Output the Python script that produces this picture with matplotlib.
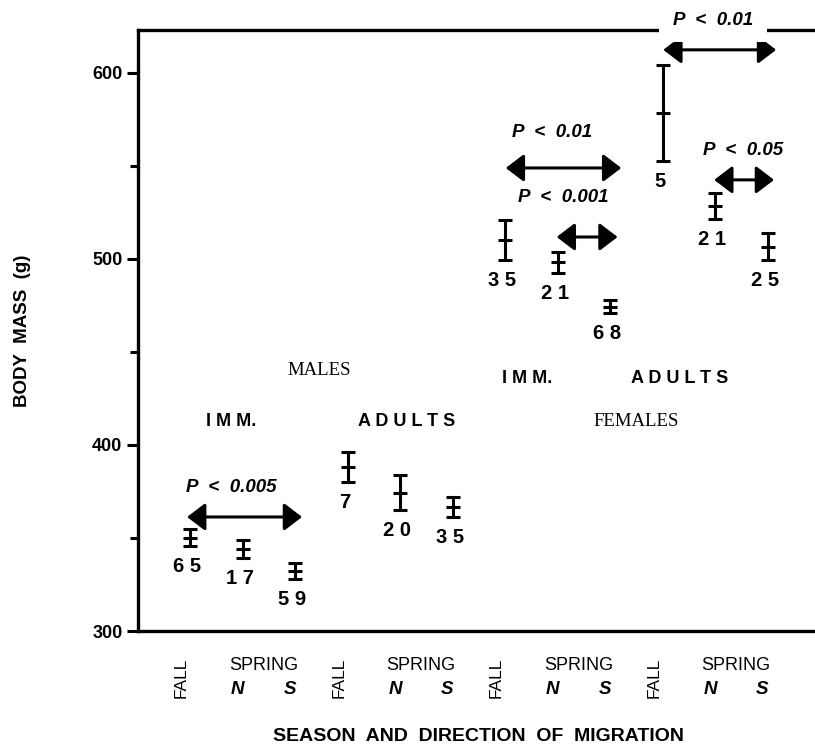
import matplotlib.pyplot as plt
from matplotlib.ticker import MultipleLocator
import matplotlib.transforms as mtransforms

plt.rcParams["font.family"] = ["Liberation Sans", "DejaVu Sans"]

# twelve samples: males imm / males adult / females imm / females adult,
# each as fall, spring north, spring south
season_labels = ["FALL", "N", "S"] * 4
mean_mass = [350.2, 344.1, 332.4, 388.0, 374.4, 366.8,
             510.2, 498.2, 474.4, 578.5, 528.5, 506.6]
se_mass = [4.5, 4.7, 4.2, 8.0, 9.4, 5.5,
           10.9, 5.6, 3.6, 26.0, 7.2, 7.2]
sample_n = [65, 17, 59, 7, 20, 35, 35, 21, 68, 5, 21, 25]

# significant differences between samples (index pairs)
comp_pairs = [(0, 2), (6, 8), (7, 8), (9, 11), (10, 11)]
comp_p = ["0.005", "0.01", "0.001", "0.01", "0.05"]

x = list(range(len(mean_mass)))

fig = plt.figure(figsize=(8.15, 7.53), dpi=100)
ax = fig.add_axes([0.169, 0.162, 0.831, 0.798])

ax.errorbar(x, mean_mass, yerr=se_mass, fmt="_", color="black",
            markersize=10, markeredgewidth=2.2, elinewidth=2.2,
            capsize=5, capthick=2.2)

for xi, m, s, n in zip(x, mean_mass, se_mass, sample_n):
    ax.annotate(" ".join(str(n)), xy=(xi, m - s), xytext=(-2, -8),
                textcoords="offset points", ha="center", va="top",
                fontsize=14.5, fontweight="bold")

# arrows for the comparisons
arrow_y = [361.3, 548.9, 511.8, 612.4, 542.5]
arrow_pad = [(-0.06, 0.13), (0.01, 0.21), (-0.02, 0.14), (0.01, 0.16), (-0.02, 0.12)]
text_x = [0.78, 6.9, 7.11, 9.96, 10.53]
text_dy = [16, 19, 21, 16, 16]
for k, (i, j) in enumerate(comp_pairs):
    y = arrow_y[k]
    ax.annotate("", xy=(j + arrow_pad[k][1], y), xytext=(i + arrow_pad[k][0], y),
                arrowprops=dict(arrowstyle="<|-|>,head_length=0.55,head_width=0.42",
                                lw=2.2, color="black", mutation_scale=20,
                                shrinkA=0, shrinkB=0))
    bbox = None
    if k == 3:
        bbox = dict(facecolor="white", edgecolor="none", pad=10)
    ax.text(text_x[k], y + text_dy[k], "P  <  " + comp_p[k], ha="center", va="center",
            fontsize=13.5, fontweight="bold", fontstyle="italic",
            bbox=bbox, clip_on=False, zorder=5)

# group labels
ax.text(2.45, 440.3, "MALES", family="Liberation Serif", fontsize=13.5, ha="center", va="center")
ax.text(8.5, 412.4, "FEMALES", family="Liberation Serif", fontsize=13.5, ha="center", va="center")
ax.text(0.78, 412.4, "I M M.", fontsize=13, fontweight="bold", ha="center", va="center")
ax.text(4.13, 412.4, "A D U L T S", fontsize=13, fontweight="bold", ha="center", va="center")
ax.text(6.41, 436, "I M M.", fontsize=13, fontweight="bold", ha="center", va="center")
ax.text(9.33, 436, "A D U L T S", fontsize=13, fontweight="bold", ha="center", va="center")

# x labels below the axis
trans = mtransforms.blended_transform_factory(ax.transData, ax.transAxes)
for xi, lab in zip(x, season_labels):
    if lab == "FALL":
        ax.text(xi - 0.17, -0.078, lab, transform=trans, rotation=90,
                ha="center", va="center", fontsize=12.5)
    else:
        ax.text(xi - 0.1, -0.098, lab, transform=trans, ha="center", va="center",
                fontsize=13.5, fontweight="bold", fontstyle="italic")
for g in range(4):
    ax.text(3 * g + 1.4, -0.057, "SPRING", transform=trans, ha="center",
            va="center", fontsize=13)

ax.set_xlim(-1.0, 11.9)
ax.set_ylim(300, 623)
ax.set_xticks([])
ax.yaxis.set_major_locator(MultipleLocator(100))
ax.yaxis.set_minor_locator(MultipleLocator(50))
ax.tick_params(axis="y", which="major", length=8, width=2.2, labelsize=13, pad=3)
ax.tick_params(axis="y", which="minor", length=6, width=2.2)
for lab in ax.get_yticklabels():
    lab.set_fontweight("bold")

ax.spines["right"].set_visible(False)
for side in ["left", "bottom", "top"]:
    ax.spines[side].set_linewidth(2.4)

ax.set_ylabel("BODY  MASS  (g)", fontsize=13.5, fontweight="bold", labelpad=44)
fig.text(0.587, 0.011, "SEASON  AND  DIRECTION  OF  MIGRATION", ha="center",
         va="bottom", fontsize=14, fontweight="bold")

fig.savefig("out.png", dpi=100)
